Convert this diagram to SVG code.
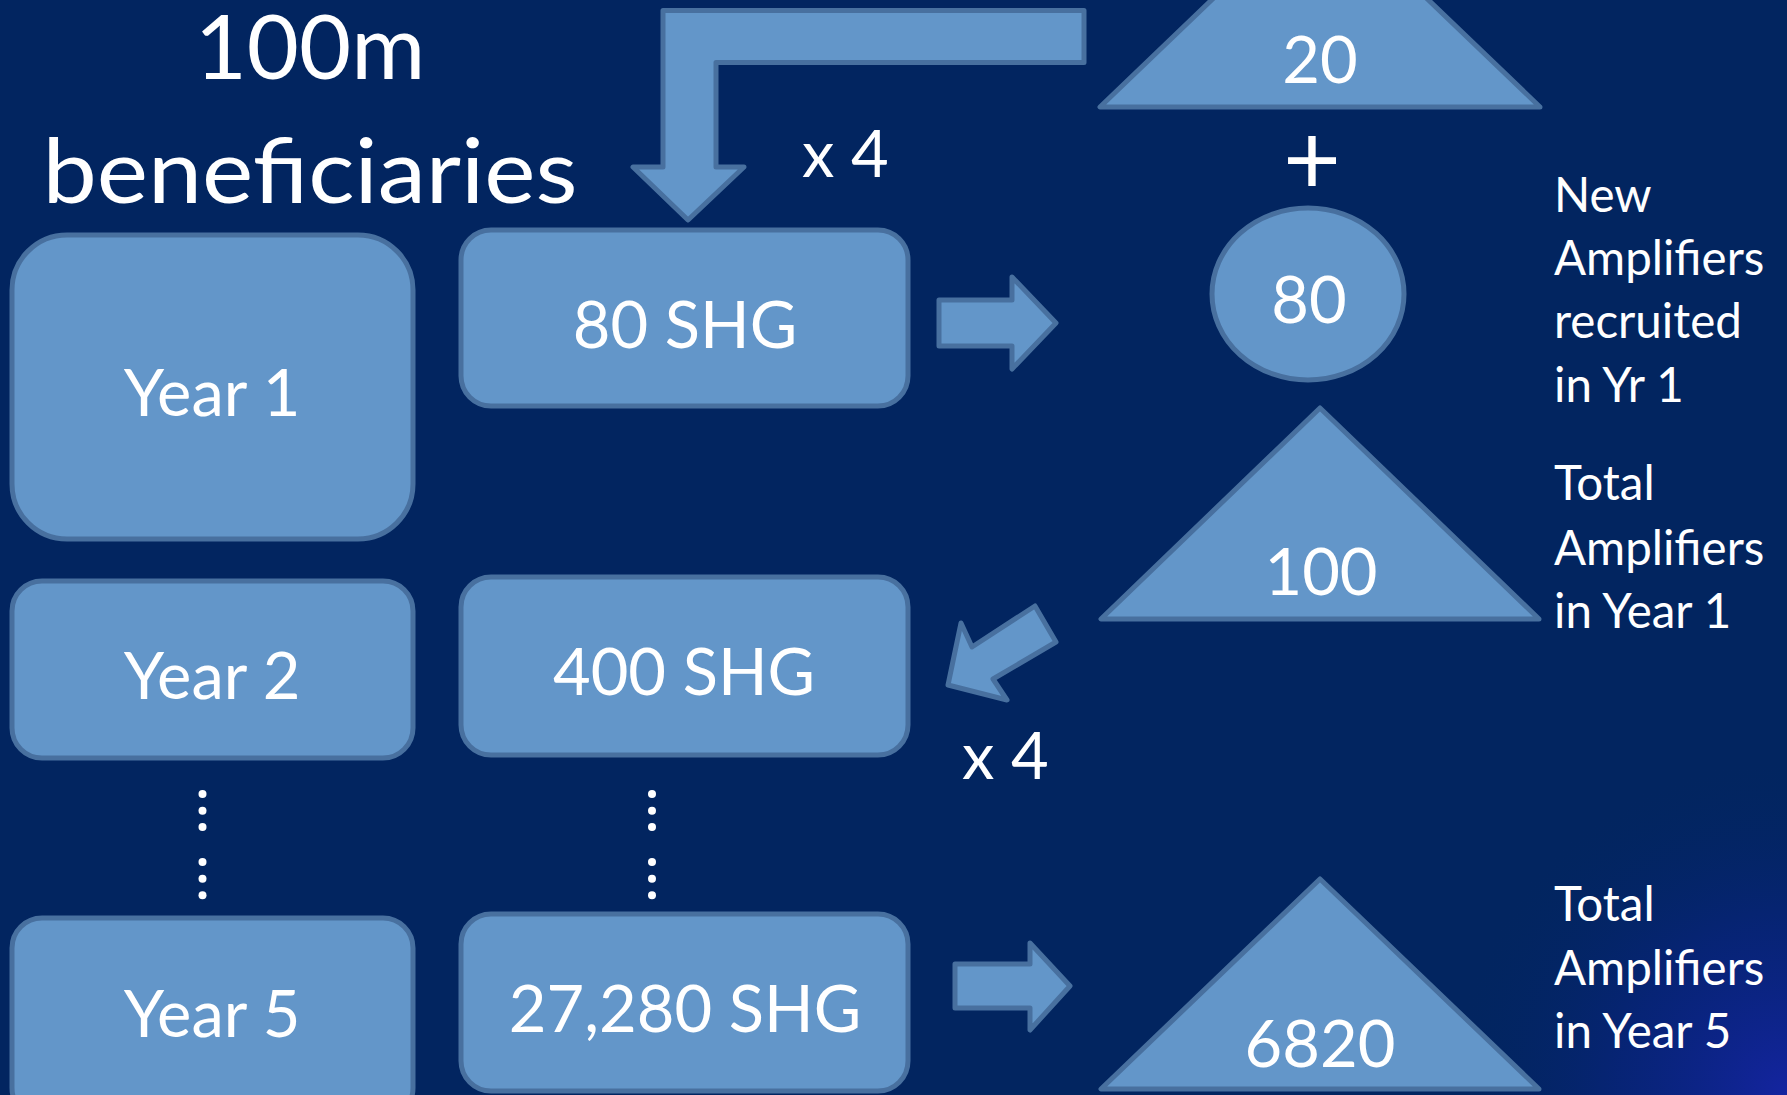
<svg xmlns="http://www.w3.org/2000/svg" width="1787" height="1095" viewBox="0 0 1787 1095">
<defs>
<radialGradient id="glow" cx="1787" cy="1095" r="340" gradientUnits="userSpaceOnUse">
<stop offset="0" stop-color="#1424a0"/>
<stop offset="0.5" stop-color="#0a2383" stop-opacity="0.6"/>
<stop offset="1" stop-color="#022560" stop-opacity="0"/>
</radialGradient>
<style>
.shape{fill:#6396c9;stroke:#48709f;stroke-width:5;stroke-linejoin:round}
.t{font-family:Lato,"Open Sans",sans-serif;fill:#ffffff}
.box{font-size:65px;text-anchor:middle}
.big{font-size:90px;text-anchor:middle}
.side{font-size:47.5px}
.dot{fill:#ffffff}
</style>
</defs>
<rect x="0" y="0" width="1787" height="1095" fill="#022560"/>
<rect x="0" y="0" width="1787" height="1095" fill="url(#glow)"/>

<g id="title">
<text class="t big" x="310" y="79">100m</text>
<text class="t big" x="310" y="203" textLength="535" lengthAdjust="spacingAndGlyphs">beneficiaries</text>
</g>

<g id="connectors">
<polygon id="arrow-top" class="shape" points="1084,10.5 1084,62.5 716,62.5 716,167 744,167 688,220 633,167 663,167 663,10.5"/>
<polygon id="arrow-yr1" class="shape" points="939,300 1012,300 1012,277 1056,323 1012,369 1012,346 939,346"/>
<polygon id="arrow-diag" class="shape" points="948,685 961,623 972,647 1035,606 1056,642 993,679 1007,700"/>
<polygon id="arrow-yr5" class="shape" points="955,964 1030,964 1030,943 1070,986 1030,1030 1030,1008 955,1008"/>
<text class="t box" x="802" y="177" style="text-anchor:start">x 4</text>
<text class="t box" x="962" y="779" style="text-anchor:start">x 4</text>
<g id="dots">
<circle class="dot" cx="202.5" cy="794" r="4"/>
<circle class="dot" cx="202.5" cy="810.7" r="4"/>
<circle class="dot" cx="202.5" cy="827" r="4"/>
<circle class="dot" cx="202.5" cy="862" r="4"/>
<circle class="dot" cx="202.5" cy="878.7" r="4"/>
<circle class="dot" cx="202.5" cy="895.3" r="4"/>
<circle class="dot" cx="652" cy="794" r="4"/>
<circle class="dot" cx="652" cy="810.7" r="4"/>
<circle class="dot" cx="652" cy="827" r="4"/>
<circle class="dot" cx="652" cy="862" r="4"/>
<circle class="dot" cx="652" cy="878.7" r="4"/>
<circle class="dot" cx="652" cy="895.3" r="4"/>
</g>
</g>

<g id="year1">
<rect class="shape" x="12" y="235" width="401" height="304" rx="55" ry="55"/>
<text class="t box" x="212" y="416">Year 1</text>
</g>
<g id="shg80">
<rect class="shape" x="461" y="230" width="447" height="176" rx="30" ry="30"/>
<text class="t box" x="685" y="348">80 SHG</text>
</g>
<g id="year2">
<rect class="shape" x="12" y="581" width="401" height="177" rx="30" ry="30"/>
<text class="t box" x="212" y="699">Year 2</text>
</g>
<g id="shg400">
<rect class="shape" x="461" y="577" width="447" height="178" rx="30" ry="30"/>
<text class="t box" x="684" y="695">400 SHG</text>
</g>
<g id="year5">
<rect class="shape" x="12" y="918" width="401" height="200" rx="30" ry="30"/>
<text class="t box" x="212" y="1037">Year 5</text>
</g>
<g id="shg27280">
<rect class="shape" x="461" y="914" width="447" height="177" rx="30" ry="30"/>
<text class="t box" x="685" y="1032">27,280 SHG</text>
</g>

<g id="tri20">
<polygon class="shape" points="1100,107 1540,107 1320,-104"/>
<text class="t box" x="1320" y="83">20</text>
</g>
<g id="plus">
<text class="t" x="1312" y="195" style="font-size:100px;text-anchor:middle">+</text>
</g>
<g id="ell80">
<ellipse class="shape" cx="1308" cy="294" rx="96" ry="86"/>
<text class="t box" x="1309" y="323">80</text>
</g>
<g id="label-new">
<text class="t side" x="1554" y="212">New</text>
<text class="t side" x="1554" y="275">Amplifiers</text>
<text class="t side" x="1554" y="338">recruited</text>
<text class="t side" x="1554" y="402">in Yr 1</text>
</g>
<g id="tri100">
<polygon class="shape" points="1101,619 1539,619 1320,408"/>
<text class="t box" x="1321" y="595">100</text>
</g>
<g id="label-total1">
<text class="t side" x="1554" y="500">Total</text>
<text class="t side" x="1554" y="565">Amplifiers</text>
<text class="t side" x="1554" y="628">in Year 1</text>
</g>
<g id="tri6820">
<polygon class="shape" points="1101,1089 1539,1089 1320,879"/>
<text class="t box" x="1320" y="1067">6820</text>
</g>
<g id="label-total5">
<text class="t side" x="1554" y="921">Total</text>
<text class="t side" x="1554" y="985">Amplifiers</text>
<text class="t side" x="1554" y="1048">in Year 5</text>
</g>
</svg>
